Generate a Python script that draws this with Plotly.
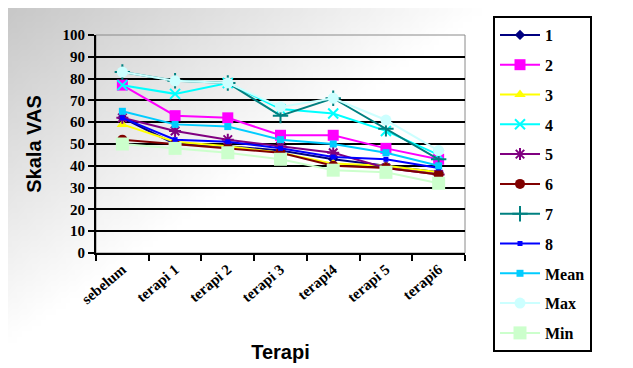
import base64, struct, zlib
import numpy as np
import plotly.graph_objects as go

categories = ["sebelum", "terapi 1", "terapi 2", "terapi 3", "terapi4", "terapi 5", "terapi6"]

s1 = [62, 50, 49, 47, 43, 40, 37]
s2 = [77, 63, 62, 54, 54, 48, 43]
s3 = [59, 51, 49, 46, 41, 40, 37]
s4 = [77, 73, 78, 66, 64, 56, 45]
s5 = [62, 56, 52, 49, 46, 39, 36]
s6 = [52, 50, 48, 46, 40, 39, 36]
s7 = [83, 79, 78, 63, 71, 57, 43]
s8 = [62, 52, 51, 48, 44, 43, 39]
mean = [65, 59, 58, 52, 50, 46, 40]
vmax = [83, 79, 78, 67, 71, 61, 47]
vmin = [50, 48, 46, 43, 38, 37, 32]

y_ticks = list(range(0, 101, 10))

series = [
    ("1", s1, "#000080", "diamond", 8, 2),
    ("2", s2, "#FF00FF", "square", 11, 2),
    ("3", s3, "#FFFF00", "triangle-up", 10, 2),
    ("4", s4, "#00FFFF", "x-thin", 10, 2),
    ("5", s5, "#800080", "asterisk", 10, 2),
    ("6", s6, "#800000", "circle", 10, 2),
    ("7", s7, "#008080", "cross-thin", 11, 2),
    ("8", s8, "#0000FF", "square", 5, 2),
    ("Mean", mean, "#00CCFF", "square", 7, 2),
    ("Max", vmax, "#CCFFFF", "circle", 11, 2),
    ("Min", vmin, "#CCFFCC", "square", 13, 2),
]

fig = go.Figure()
for name, vals, col, sym, size, lw in series:
    mline = dict(width=2, color=col) if sym in ("x-thin", "cross-thin", "asterisk") else dict(width=0)
    fig.add_trace(go.Scatter(
        x=categories, y=vals, name=name, mode="lines+markers",
        line=dict(color=col, width=lw),
        marker=dict(symbol=sym, size=size, color=col, line=mline),
        legendgroup=name,
    ))

# background gradient image (chart area)
W, H = 128, 64
img = np.zeros((H, W, 3), dtype=np.uint8)
for j in range(H):
    for i in range(W):
        t = min(1.0, (i / W) * 633 / 480 + (j / H) * 360 / 330)
        v = int(200 + 55 * t)
        img[j, i] = (v, v, v)
raw = b"".join(b"\x00" + img[j].tobytes() for j in range(H))
def chunk(tag, data):
    c = struct.pack(">I", len(data)) + tag + data
    return c + struct.pack(">I", zlib.crc32(tag + data) & 0xffffffff)
png = b"\x89PNG\r\n\x1a\n" + chunk(b"IHDR", struct.pack(">IIBBBBB", W, H, 8, 2, 0, 0, 0)) \
    + chunk(b"IDAT", zlib.compress(raw)) + chunk(b"IEND", b"")
uri = "data:image/png;base64," + base64.b64encode(png).decode()

OFF = 8  # page body margin
FW, FH = 633, 368
pw, ph = 369, 218
L, T = 96 - OFF, 35 - OFF
R, B = FW - L - pw, FH - T - ph
def px(x):
    return (x - OFF - L) / pw
def py(y):
    return (FH - B - (y - OFF)) / ph

fig.add_layout_image(dict(source=uri, xref="paper", yref="paper",
                          x=px(5), y=py(8), sizex=px(625) - px(5), sizey=py(8) - py(368),
                          sizing="stretch", layer="below", xanchor="left", yanchor="top"))

fig.add_shape(type="rect", xref="paper", yref="paper", x0=0, x1=1, y0=0, y1=1,
              line=dict(color="#8a8a8a", width=1), layer="below")

fig.update_layout(
    width=FW, height=FH,
    margin=dict(l=L, r=R, t=T, b=B, autoexpand=False),
    paper_bgcolor="white",
    plot_bgcolor="#C0C0C0",
    showlegend=True,
    legend=dict(
        x=px(493), y=py(16), xanchor="left", yanchor="top",
        bordercolor="black", borderwidth=2, bgcolor="white",
        font=dict(family="Liberation Serif", size=16, color="black", weight="bold"),
        tracegroupgap=6, itemwidth=40, maxheight=500,
    ),
    xaxis=dict(
        type="category", tickson="boundaries", ticks="outside", ticklen=6,
        tickcolor="black", tickwidth=2, showline=True, linecolor="black", linewidth=2,
        showgrid=False, tickangle=-40,
        tickfont=dict(family="Liberation Serif", size=15, color="black", weight="bold"),
        title=dict(text="Terapi", font=dict(family="Liberation Sans", size=20, color="black", weight="bold"), standoff=39),
        range=[-0.5, 6.5],
    ),
    yaxis=dict(
        range=[0, 100], tickvals=y_ticks, ticks="outside", ticklen=6,
        tickcolor="black", tickwidth=2, showline=True, linecolor="black", linewidth=2,
        showgrid=True, gridcolor="black", gridwidth=2, zeroline=False,
        tickfont=dict(family="Liberation Serif", size=15, color="black", weight="bold"),
        title=dict(text="Skala VAS", font=dict(family="Liberation Sans", size=20, color="black", weight="bold"), standoff=16),
    ),
)

fig.write_html("out.html")
